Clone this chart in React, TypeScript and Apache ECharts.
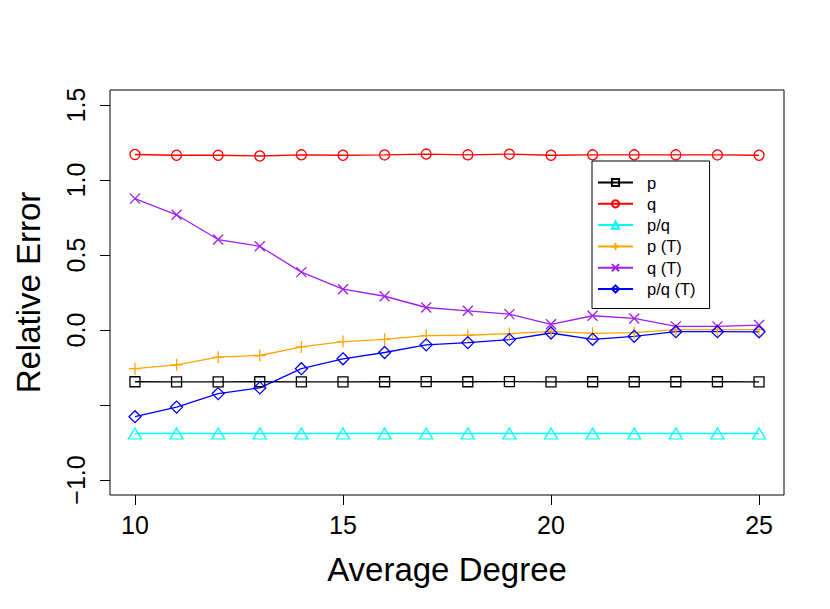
import React, { useEffect, useRef } from "react";
import * as echarts from "echarts";

const degrees = [10, 11, 12, 13, 14, 15, 16, 17, 18, 19, 20, 21, 22, 23, 24, 25];
const pVals = [-0.345, -0.346, -0.346, -0.345, -0.346, -0.346, -0.345, -0.344, -0.345, -0.344, -0.346, -0.345, -0.345, -0.345, -0.345, -0.346];
const qVals = [1.170, 1.165, 1.165, 1.160, 1.168, 1.165, 1.167, 1.173, 1.168, 1.172, 1.165, 1.168, 1.168, 1.168, 1.167, 1.165];
const pqVals = [-0.69, -0.69, -0.69, -0.69, -0.69, -0.69, -0.69, -0.69, -0.69, -0.69, -0.69, -0.69, -0.69, -0.69, -0.69, -0.69];
const pTVals = [-0.258, -0.232, -0.181, -0.170, -0.113, -0.077, -0.062, -0.037, -0.035, -0.024, -0.009, -0.022, -0.018, 0.002, 0.002, 0.002];
const qTVals = [0.876, 0.768, 0.603, 0.558, 0.386, 0.272, 0.225, 0.150, 0.128, 0.106, 0.038, 0.095, 0.077, 0.024, 0.024, 0.033];
const pqTVals = [-0.578, -0.514, -0.424, -0.386, -0.258, -0.192, -0.150, -0.099, -0.084, -0.064, -0.020, -0.062, -0.042, -0.011, -0.011, -0.012];

const seriesNames = ["p", "q", "p/q", "p (T)", "q (T)", "p/q (T)"];
const seriesColors = ["#000000", "#FF0000", "#00FFFF", "#FFA500", "#A020F0", "#0000FF"];
const xTicks = [10, 15, 20, 25];
const yTicks = [-1, -0.5, 0, 0.5, 1, 1.5];
const yLabels = [-1, 0, 0.5, 1, 1.5];

const FONT = "Liberation Sans, Arial, Helvetica, sans-serif";

export default function App() {
  const ref = useRef<HTMLDivElement>(null);
  useEffect(() => {
    if (!ref.current) return;
    const chart = echarts.init(ref.current, null, { renderer: "svg" });
    const values = [pVals, qVals, pqVals, pTVals, qTVals, pqTVals];
    const symbols: any[] = [
      "rect",
      "circle",
      "triangle",
      "path://M5,0L5,10M0,5L10,5",
      "path://M0,0L10,10M10,0L0,10",
      "diamond",
    ];
    const sizes: any[] = [10, 10, [13, 11], 12, 10, [12, 12]];
    const series = seriesNames.map((name, i) => ({
      name,
      type: "line",
      data: degrees.map((d, j) => [d, values[i][j]]),
      symbol: symbols[i],
      symbolSize: sizes[i],
      showSymbol: true,
      lineStyle: { color: seriesColors[i], width: 1.3 },
      itemStyle: { color: "rgba(0,0,0,0)", borderColor: seriesColors[i], borderWidth: 1.3 },
      emphasis: { disabled: true },
    }));
    chart.setOption({
      animation: false,
      backgroundColor: "#ffffff",
      textStyle: { fontFamily: FONT },
      grid: {
        left: 110,
        top: 90,
        right: 46,
        bottom: 114,
        show: true,
        borderColor: "#000",
        borderWidth: 1,
        containLabel: false,
      },
      legend: {
        orient: "vertical",
        left: 592,
        top: 161,
        padding: [13, 14, 11, 5],
        itemWidth: 35,
        itemHeight: 9,
        itemGap: 4.3,
        borderColor: "#000",
        borderWidth: 1,
        backgroundColor: "#fff",
        textStyle: { fontSize: 16.5, lineHeight: 17, fontFamily: FONT, color: "#000", padding: [0, 0, 0, 9] },
        data: seriesNames,
      },
      xAxis: {
        type: "value",
        min: 9.4,
        max: 25.6,
        name: "Average Degree",
        nameLocation: "middle",
        nameGap: 58,
        nameTextStyle: { fontSize: 33, fontFamily: FONT, color: "#000" },
        axisLine: { show: false, onZero: false },
        splitLine: { show: false },
        axisTick: { show: true, length: 10, inside: false, customValues: xTicks, lineStyle: { color: "#000", width: 1 } },
        axisLabel: {
          customValues: xTicks,
          fontSize: 25,
          fontFamily: FONT,
          color: "#000",
          margin: 17,
          formatter: (v: number) => String(v),
        },
      },
      yAxis: {
        type: "value",
        min: -1.1,
        max: 1.6,
        name: "Relative Error",
        nameLocation: "middle",
        nameGap: 65,
        nameRotate: 90,
        nameTextStyle: { fontSize: 33, fontFamily: FONT, color: "#000" },
        axisLine: { show: false, onZero: false },
        splitLine: { show: false },
        axisTick: { show: true, length: 10, inside: false, customValues: yTicks, lineStyle: { color: "#000", width: 1 } },
        axisLabel: {
          customValues: yLabels,
          rotate: 90,
          fontSize: 25,
          fontFamily: FONT,
          color: "#000",
          margin: 22,
          formatter: (v: number) => (v < 0 ? "\u2212" + Math.abs(v).toFixed(1) : v.toFixed(1)),
        },
      },
      series,
    });
    return () => chart.dispose();
  }, []);
  return <div ref={ref} style={{ position: "fixed", left: 0, top: 0, width: 830, height: 609 }} />;
}
